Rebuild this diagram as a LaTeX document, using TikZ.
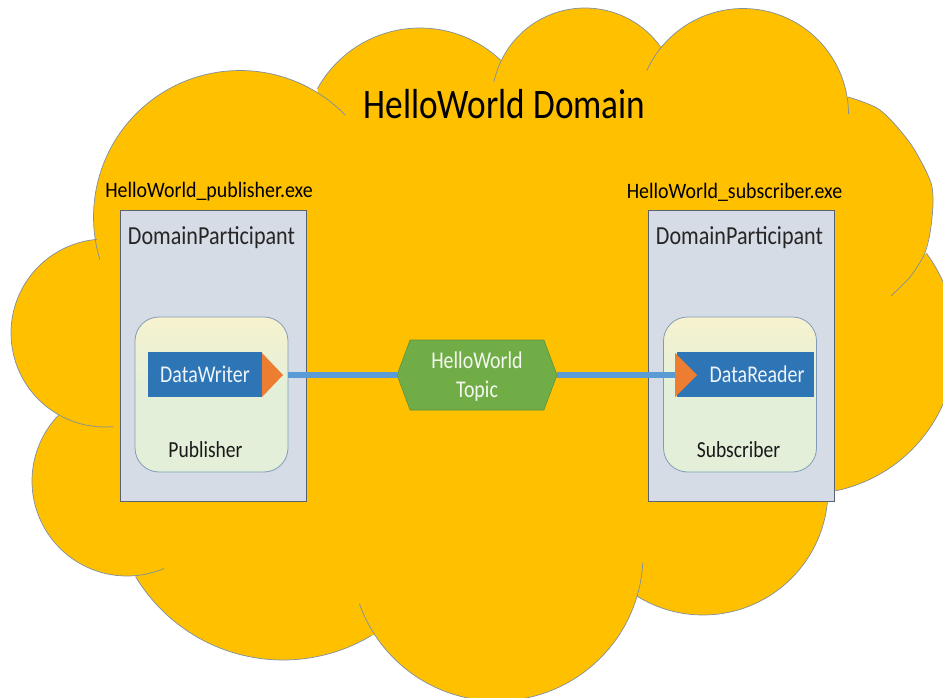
\documentclass[tikz,border=0pt]{standalone}
\usepackage{graphicx}
\usepackage{fontspec}
\setmainfont{Carlito}
\usetikzlibrary{shapes.symbols}
\definecolor{cloudY}{HTML}{FFC000}
\definecolor{cloudL}{HTML}{7F8FA0}
\definecolor{dpFill}{HTML}{D6DCE5}
\definecolor{dpLine}{HTML}{5A6272}
\definecolor{paleTop}{HTML}{F9F3CD}
\definecolor{paleBot}{HTML}{E3EFD9}
\definecolor{innerL}{HTML}{7F9DB9}
\definecolor{bluebar}{HTML}{2E75B6}
\definecolor{orangeT}{HTML}{ED7D31}
\definecolor{greenH}{HTML}{70AD47}
\definecolor{linkB}{HTML}{5B9BD5}
\pgfdeclareverticalshading{paleShade}{100bp}{
  color(0bp)=(paleBot); color(52bp)=(paleBot); color(78bp)=(paleTop); color(100bp)=(paleTop)}
\tikzset{
  x=1pt,y=-1pt,
  pts/.style={samples=60},
  cloudline/.style={draw=cloudL,line width=0.7pt},
  participant/.style={draw=dpLine,line width=1pt,fill=dpFill,minimum width=186pt,minimum height=291pt,inner sep=0pt,outer sep=0pt},
  inner box/.style={draw=innerL,line width=0.8pt,shading=paleShade,rounded corners=24pt,minimum width=153pt,minimum height=155pt,inner sep=0pt,outer sep=0pt},
  barbox/.style={fill=bluebar,text=white!92!bluebar,inner sep=0pt,outer sep=0pt,minimum height=45pt,font=\fontsize{24}{26}\selectfont},
  tipshape/.style={fill=orangeT},
  link/.style={draw=linkB,line width=5.5pt},
  exelabel/.style={font=\fontsize{22}{24}\selectfont,text=black},
  dplabel/.style={font=\fontsize{26}{28}\selectfont,text=black!85},
  rolelabel/.style={font=\fontsize{23}{25}\selectfont,text=black!90},
  topicbox/.style={shape=signal,signal to=east and west,signal pointer angle=139,fill=greenH,draw=greenH!85!black,line width=0.6pt,minimum width=160pt,minimum height=70pt,inner sep=0pt,outer sep=0pt},
  topiclabel/.style={text=white!92!greenH,font=\fontsize{24}{26}\selectfont}
}
\begin{document}
\begin{tikzpicture}
\path[use as bounding box] (0,0) rectangle (943,698);
\clip (0,0) rectangle (943,698);
% cloud body
\fill[cloudY]
  plot[pts,domain=171.4:302] ({240+146.5*cos(\x)},{217+146.5*sin(\x)}) --
  plot[pts,domain=208.8:313.6] ({420+117*cos(\x)},{145+117*sin(\x)}) --
  plot[pts,domain=206:324] ({585+93*cos(\x)},{101+93*sin(\x)}) --
  plot[pts,domain=220.8:350.8] ({743+105.5*cos(\x)},{114+105.5*sin(\x)}) --
  plot[smooth] coordinates {(848,97) (880,110) (910,143) (930,180) (933,203) (930,233) (924,255)} --
  plot[pts,domain=-36.5:78.3] ({805+151*cos(\x)},{343+151*sin(\x)}) --
  plot[pts,domain=0:122.2] ({703+125*cos(\x)},{490+125*sin(\x)}) --
  plot[pts,domain=17.3:147] ({497+146*cos(\x)},{555+146*sin(\x)}) --
  plot[pts,domain=59:149] ({283+172*cos(\x)},{488+172*sin(\x)}) --
  plot[pts,domain=83.3:223.7] ({127+95*cos(\x)},{481+95*sin(\x)}) --
  plot[pts,domain=119.8:265] ({105+94*cos(\x)},{333+94*sin(\x)}) -- cycle;
% cloud outlines, with the short inner tails
\draw[cloudline] plot[pts,domain=163:316] ({240+146.5*cos(\x)},{217+146.5*sin(\x)});
\draw[cloudline] plot[pts,domain=208.8:313.6] ({420+117*cos(\x)},{145+117*sin(\x)});
\draw[cloudline] plot[pts,domain=192:324] ({585+93*cos(\x)},{101+93*sin(\x)});
\draw[cloudline] plot[pts,domain=204.4:360] ({743+105.5*cos(\x)},{114+105.5*sin(\x)});
\draw[cloudline] plot[smooth] coordinates {(848,97) (880,110) (910,143) (930,180) (933,203) (930,233) (924,255) (910,277) (891,296)};
\draw[cloudline] plot[pts,domain=-36.5:78.3] ({805+151*cos(\x)},{343+151*sin(\x)});
\draw[cloudline] plot[pts,domain=0:122.2] ({703+125*cos(\x)},{490+125*sin(\x)});
\draw[cloudline] plot[pts,domain=3:160.5] ({497+146*cos(\x)},{555+146*sin(\x)});
\draw[cloudline] plot[pts,domain=59:149] ({283+172*cos(\x)},{488+172*sin(\x)});
\draw[cloudline] plot[pts,domain=67:223.7] ({127+95*cos(\x)},{481+95*sin(\x)});
\draw[cloudline] plot[pts,domain=85:265] ({105+94*cos(\x)},{333+94*sin(\x)});

\node[font=\fontsize{42}{44}\selectfont,text=black] (title) at (504.5,104) {\scalebox{0.84}[1]{HelloWorld Domain}};
\node[exelabel] (pubexe) at (209,192) {\scalebox{0.905}[1]{HelloWorld\_publisher.exe}};
\node[exelabel] (subexe) at (734.5,192) {\scalebox{0.905}[1]{HelloWorld\_subscriber.exe}};

\node[participant] (dpL) at (213,355.5) {};
\node[participant] (dpR) at (741,355.5) {};
\node[dplabel] (dpLt) at (211.5,238) {\scalebox{0.85}[1]{DomainParticipant}};
\node[dplabel] (dpRt) at (739.5,238) {\scalebox{0.85}[1]{DomainParticipant}};

\node[inner box] (pub) at (211.5,394.5) {};
\node[inner box] (sub) at (740,394.5) {};
\node[rolelabel] (publ) at (205.5,450) {\scalebox{0.85}[1]{Publisher}};
\node[rolelabel] (subl) at (738.5,450) {\scalebox{0.85}[1]{Subscriber}};

\node[topicbox] (topic) at (477,375) {};
\node[topiclabel] (topic1) at (477,360) {\scalebox{0.83}[1]{HelloWorld}};
\node[topiclabel] (topic2) at (477,391) {\scalebox{0.83}[1]{Topic}};

\coordinate (wtip) at (283,375);
\coordinate (rbase) at (675,375);
\coordinate (rtip) at (697,375);

\draw[link] (pub.east |- topic.west) -- (topic.west);
\draw[link] (topic.east) -- (rbase);

\node[barbox,minimum width=114pt] (writer) at (205,374.5) {\scalebox{0.83}[1]{DataWriter}};
\node[barbox,minimum width=137pt,text width=137pt,align=right] (reader) at (745,374.5) {\scalebox{0.83}[1]{DataReader}\hspace*{9pt}};
\fill[tipshape] (wtip) -- (262,353) -- (262,397) -- cycle;
\fill[tipshape] (rtip) -- (675,353) -- (675,397) -- cycle;
\end{tikzpicture}
\end{document}
